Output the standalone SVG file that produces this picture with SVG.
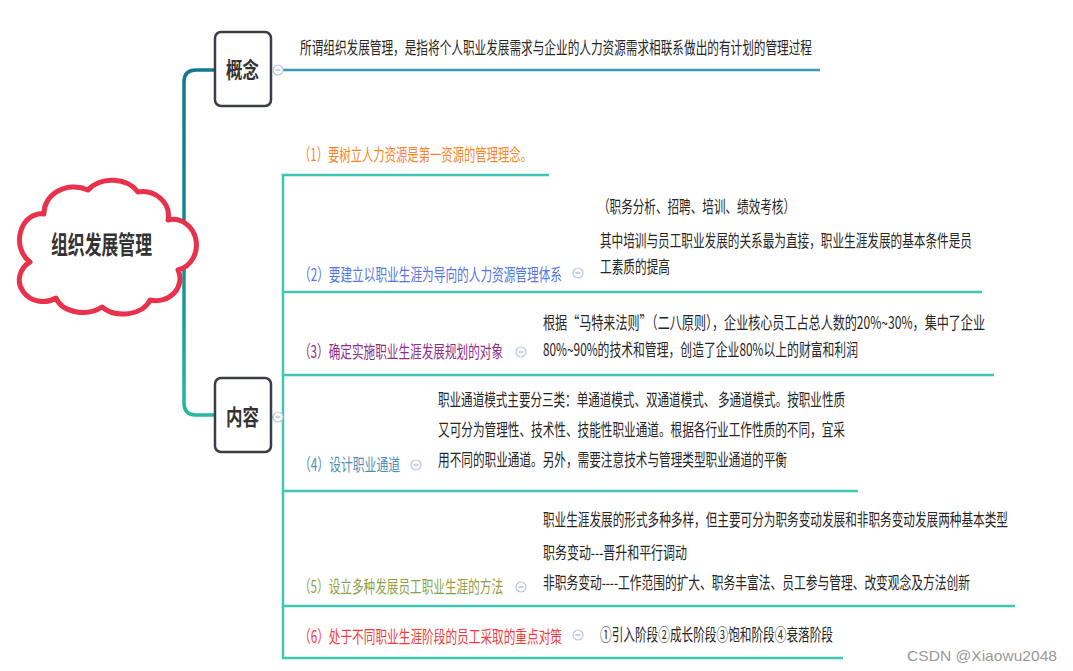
<svg xmlns="http://www.w3.org/2000/svg" width="1073" height="671" viewBox="0 0 1073 671">
<defs>
<style>
.t{font-family:"Noto Sans CJK SC","Noto Sans",sans-serif;font-size:12px;fill:#262626}
.b{font-family:"Noto Sans CJK SC","Noto Sans",sans-serif;font-weight:bold;fill:#333}
.box{fill:#fff;stroke:#3a3d45;stroke-width:2.5}
.ln{fill:none;stroke:#3fc7b3;stroke-width:2.5}
.ic{fill:#fff;stroke:#b8c4e8;stroke-width:1.2}
.im{stroke:#a6b2da;stroke-width:1.2}
</style>
<linearGradient id="trunk" x1="0" y1="0" x2="0" y2="1">
<stop offset="0" stop-color="#127a8e"/>
<stop offset="0.5" stop-color="#138a94"/>
<stop offset="1" stop-color="#22b9a0"/>
</linearGradient>
<g id="icon"><circle r="5" class="ic"/><line x1="-2.5" x2="2.5" y1="0" y2="0" class="im"/></g>
</defs>
<rect width="1073" height="671" fill="#fff"/>

<g id="connectors">
<path d="M215,70 H196 Q184,70 184,82 V403 Q184,415 196,415 H215" fill="none" stroke="url(#trunk)" stroke-width="3.5"/>
<line x1="283" y1="70" x2="820" y2="70" stroke="#3a9cb0" stroke-width="2.5"/>
<path class="ln" d="M549,175 H283 V658 H843"/>
<line class="ln" x1="283" y1="292" x2="982" y2="292"/>
<line class="ln" x1="283" y1="375" x2="994" y2="375"/>
<line class="ln" x1="283" y1="491" x2="858" y2="491"/>
<line class="ln" x1="283" y1="606" x2="1015" y2="606"/>
<line class="ln" x1="270" y1="417" x2="283" y2="417"/>
</g>

<g id="root">
<path d="M30,262 A22,26 0 0 1 44,214 A30,26 0 0 1 88,190 A30,24 0 0 1 138,192 A26,24 0 0 1 168,220 A22,24 0 0 1 178,270 A24,22 0 0 1 150,300 A28,20 0 0 1 102,307 A28,20 0 0 1 56,298 A22,20 0 0 1 30,262 Z" fill="#fff" stroke="#e8314b" stroke-width="5" stroke-linejoin="round"/>
<text class="b" x="51" y="254" font-size="25" textLength="101" lengthAdjust="spacingAndGlyphs">组织发展管理</text>
</g>

<g id="concept">
<rect class="box" x="215" y="32" width="56" height="74" rx="6"/>
<text class="b" x="226" y="78" font-size="22" textLength="33" lengthAdjust="spacingAndGlyphs">概念</text>
<use href="#icon" x="278" y="70"/>
<text class="t" transform="translate(300,54) scale(1,1.4)" textLength="512" lengthAdjust="spacingAndGlyphs">所谓组织发展管理，是指将个人职业发展需求与企业的人力资源需求相联系做出的有计划的管理过程</text>
</g>

<g id="content">
<rect class="box" x="215" y="378" width="56" height="74" rx="6"/>
<text class="b" x="226" y="425" font-size="22" textLength="33" lengthAdjust="spacingAndGlyphs">内容</text>
<use href="#icon" x="278" y="417"/>
</g>

<g id="item1">
<text class="t" transform="translate(299,161) scale(1,1.4)" style="fill:#f5862b" textLength="233" lengthAdjust="spacingAndGlyphs">（1）要树立人力资源是第一资源的管理理念。</text>
</g>

<g id="item2">
<text class="t" transform="translate(299,281) scale(1,1.4)" style="fill:#5575e0" textLength="263" lengthAdjust="spacingAndGlyphs">（2）要建立以职业生涯为导向的人力资源管理体系</text>
<use href="#icon" x="578" y="273"/>
<text class="t" transform="translate(598,213) scale(1,1.4)" textLength="197" lengthAdjust="spacingAndGlyphs">（职务分析、招聘、培训、绩效考核）</text>
<text class="t" transform="translate(600,247) scale(1,1.4)" textLength="372" lengthAdjust="spacingAndGlyphs">其中培训与员工职业发展的关系最为直接，职业生涯发展的基本条件是员</text>
<text class="t" transform="translate(600,273) scale(1,1.4)" textLength="70" lengthAdjust="spacingAndGlyphs">工素质的提高</text>
</g>

<g id="item3">
<text class="t" transform="translate(299,358) scale(1,1.4)" style="fill:#8c2d8a" textLength="204" lengthAdjust="spacingAndGlyphs">（3）确定实施职业生涯发展规划的对象</text>
<use href="#icon" x="521" y="352"/>
<text class="t" transform="translate(543,329) scale(1,1.4)" textLength="442" lengthAdjust="spacingAndGlyphs">根据“马特来法则”（二八原则），企业核心员工占总人数的20%~30%，集中了企业</text>
<text class="t" transform="translate(543,356) scale(1,1.4)" textLength="315" lengthAdjust="spacingAndGlyphs">80%~90%的技术和管理，创造了企业80%以上的财富和利润</text>
</g>

<g id="item4">
<text class="t" transform="translate(299,471) scale(1,1.4)" style="fill:#4a8fb4" textLength="101" lengthAdjust="spacingAndGlyphs">（4）设计职业通道</text>
<use href="#icon" x="416" y="465"/>
<text class="t" transform="translate(438,406) scale(1,1.4)" textLength="407" lengthAdjust="spacingAndGlyphs">职业通道模式主要分三类：单通道模式、双通道模式、 多通道模式。按职业性质</text>
<text class="t" transform="translate(438,436) scale(1,1.4)" textLength="407" lengthAdjust="spacingAndGlyphs">又可分为管理性、技术性、技能性职业通道。根据各行业工作性质的不同，宜采</text>
<text class="t" transform="translate(438,466) scale(1,1.4)" textLength="349" lengthAdjust="spacingAndGlyphs">用不同的职业通道。另外，需要注意技术与管理类型职业通道的平衡</text>
</g>

<g id="item5">
<text class="t" transform="translate(299,593) scale(1,1.4)" style="fill:#8e9f44" textLength="204" lengthAdjust="spacingAndGlyphs">（5）设立多种发展员工职业生涯的方法</text>
<use href="#icon" x="521" y="587"/>
<text class="t" transform="translate(543,526) scale(1,1.4)" textLength="465" lengthAdjust="spacingAndGlyphs">职业生涯发展的形式多种多样，但主要可分为职务变动发展和非职务变动发展两种基本类型</text>
<text class="t" transform="translate(543,559) scale(1,1.4)" textLength="144" lengthAdjust="spacingAndGlyphs">职务变动---晋升和平行调动</text>
<text class="t" transform="translate(543,589) scale(1,1.4)" textLength="427" lengthAdjust="spacingAndGlyphs">非职务变动----工作范围的扩大、职务丰富法、员工参与管理、改变观念及方法创新</text>
</g>

<g id="item6">
<text class="t" transform="translate(299,643) scale(1,1.4)" style="fill:#f23b3b" textLength="263" lengthAdjust="spacingAndGlyphs">（6）处于不同职业生涯阶段的员工采取的重点对策</text>
<use href="#icon" x="578" y="635"/>
<text class="t" transform="translate(600,641) scale(1,1.4)" textLength="233" lengthAdjust="spacingAndGlyphs">①引入阶段②成长阶段③饱和阶段④衰落阶段</text>
</g>

<text x="907" y="661" font-family="Liberation Sans, sans-serif" font-size="15" fill="#9a9a9a" textLength="150" lengthAdjust="spacingAndGlyphs">CSDN @Xiaowu2048</text>
</svg>
